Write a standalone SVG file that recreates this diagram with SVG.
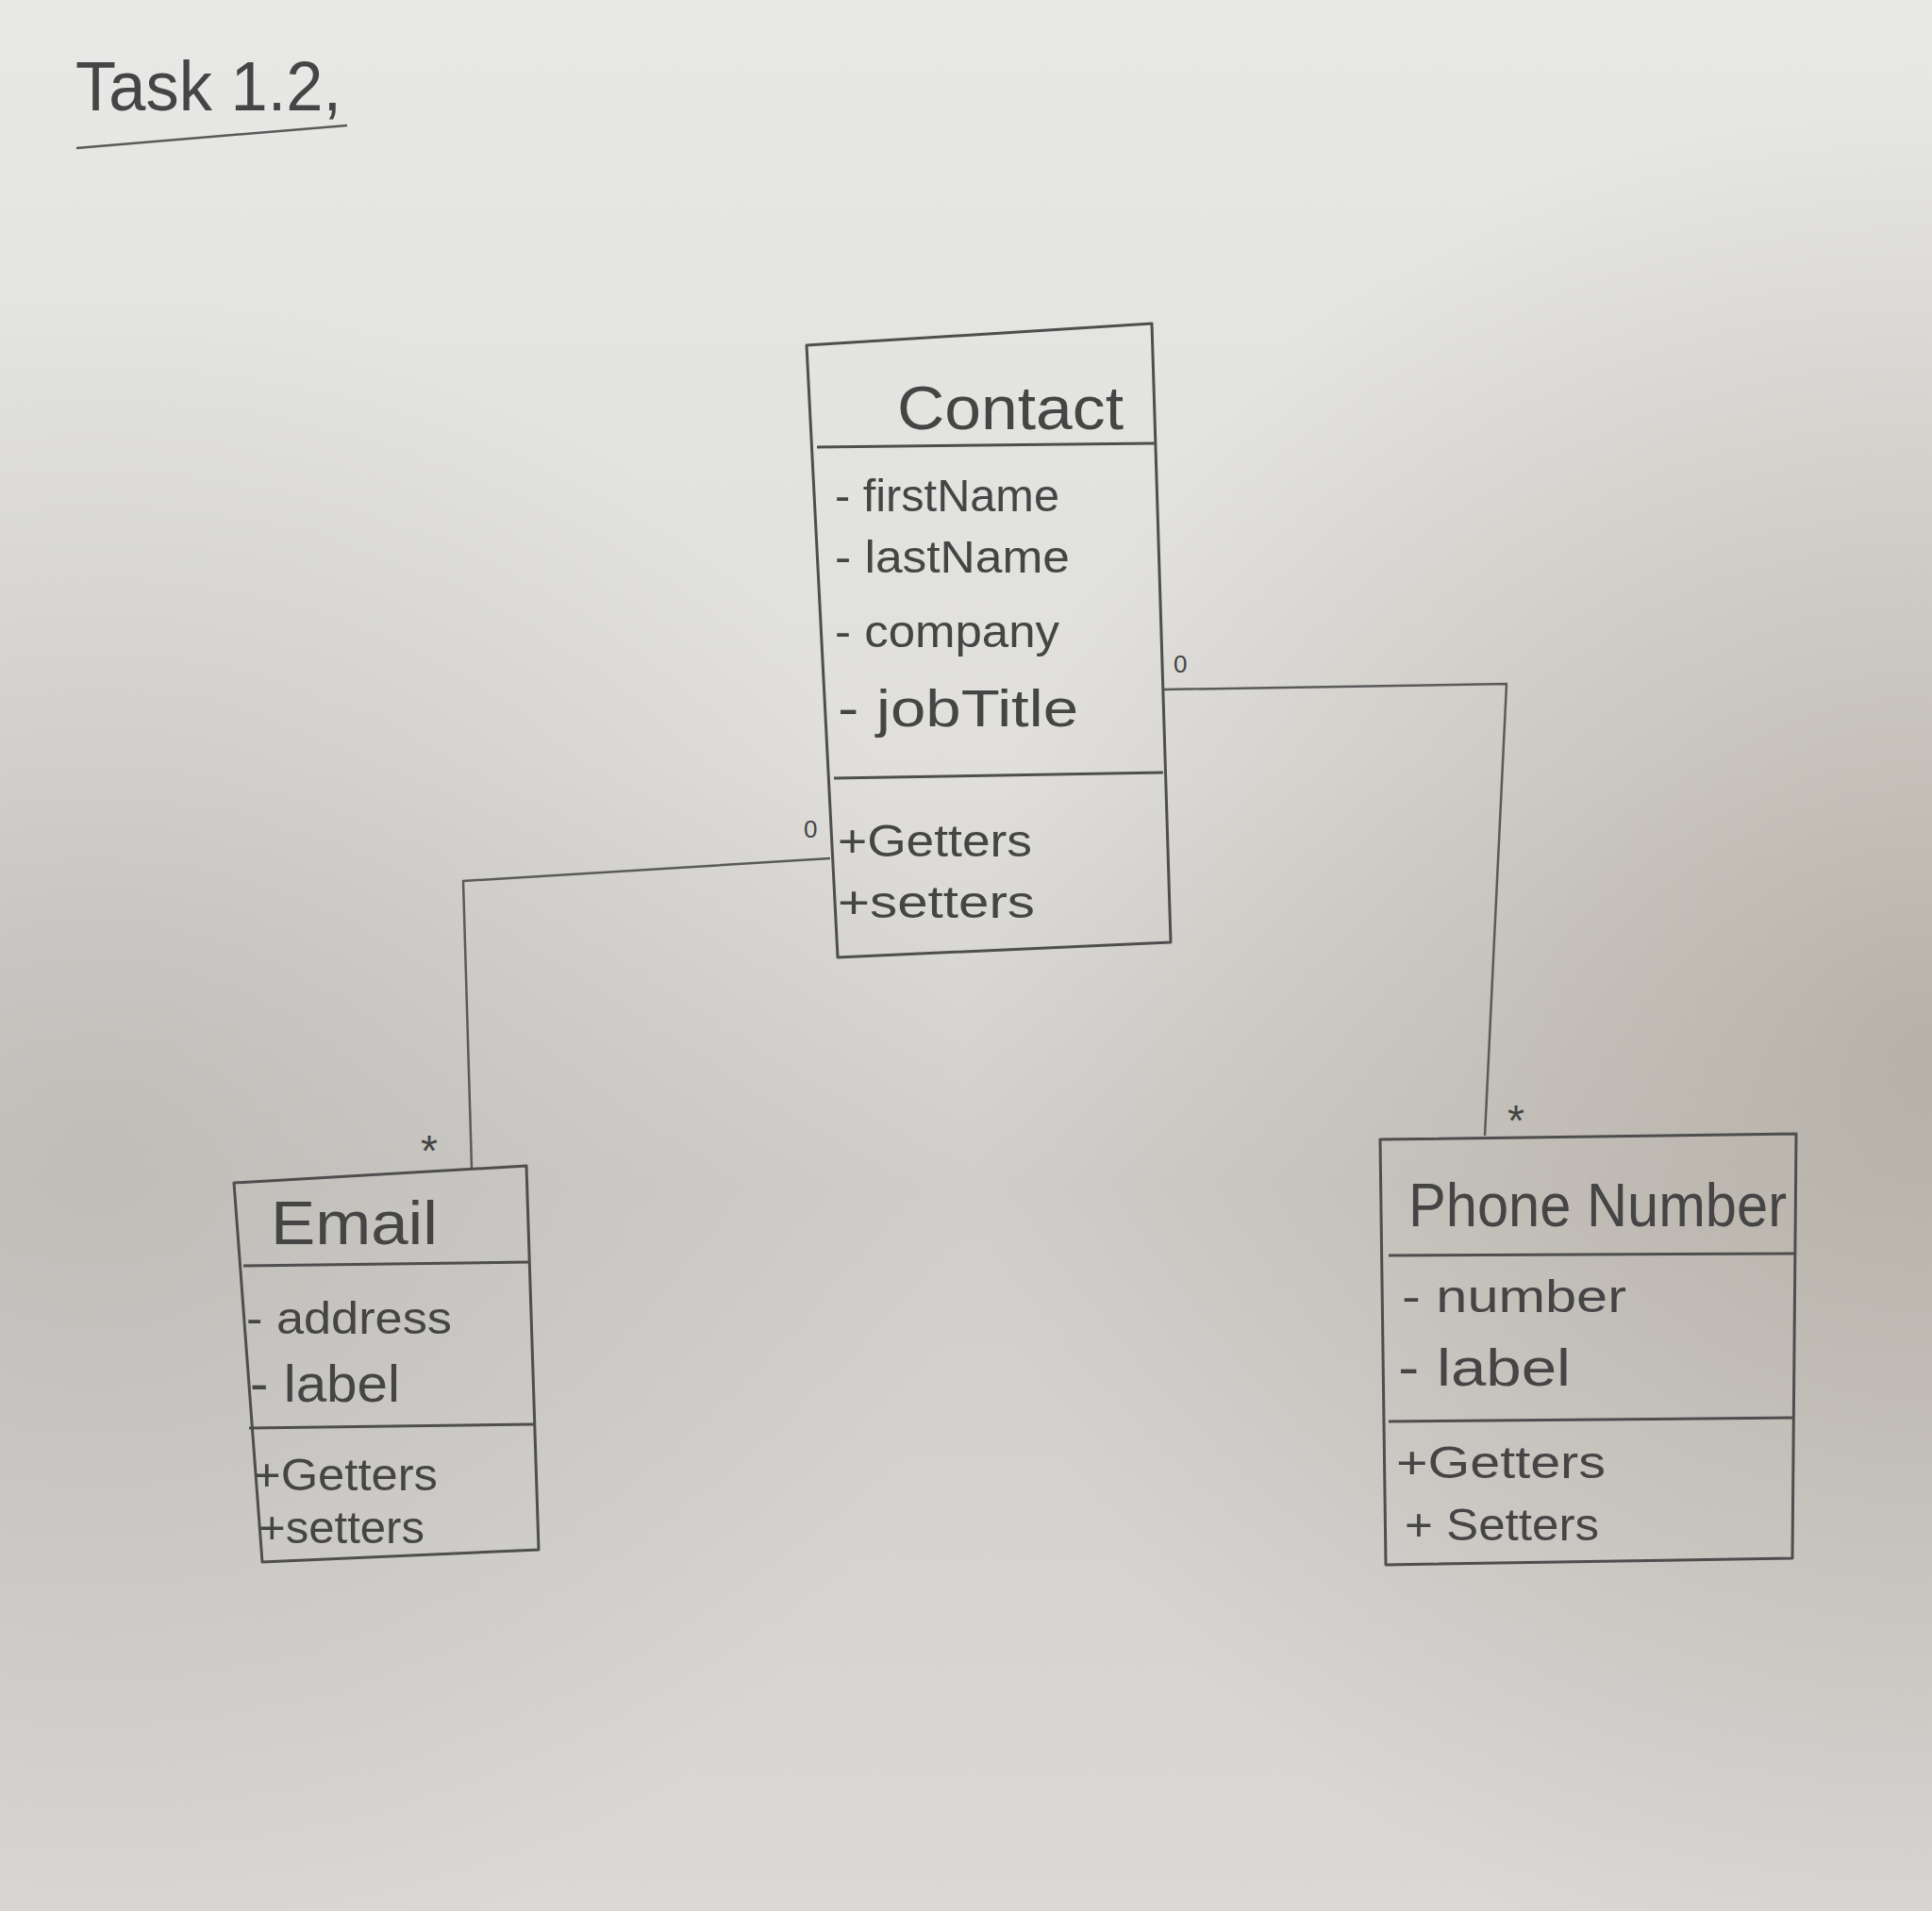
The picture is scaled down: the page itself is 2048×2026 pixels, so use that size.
<svg xmlns="http://www.w3.org/2000/svg" width="2048" height="2026" viewBox="0 0 2048 2026">
  <defs>
    <linearGradient id="paper" x1="0" y1="0" x2="0" y2="1">
      <stop offset="0" stop-color="#e8e8e6"/>
      <stop offset="0.4" stop-color="#e0dfdc"/>
      <stop offset="0.62" stop-color="#d0cecb"/>
      <stop offset="1" stop-color="#dad9d7"/>
    </linearGradient>
    <radialGradient id="shadeL" cx="0.05" cy="0.6" r="0.45">
      <stop offset="0" stop-color="#b9b6b1" stop-opacity="0.7"/>
      <stop offset="1" stop-color="#b9b6b1" stop-opacity="0"/>
    </radialGradient>
    <radialGradient id="shadeR" cx="1" cy="0.55" r="0.5">
      <stop offset="0" stop-color="#aaa397" stop-opacity="0.7"/>
      <stop offset="1" stop-color="#aaa397" stop-opacity="0"/>
    </radialGradient>
    <style>
      .box { fill: none; stroke: #4e4e4e; stroke-width: 3; stroke-linejoin: round; }
      .line { fill: none; stroke: #5a5a5a; stroke-width: 2.5; stroke-linejoin: round; }
      .t { font-family: "Liberation Sans", "DejaVu Sans", sans-serif; fill: #454545; }
      .title { font-size: 74px; }
      .cls { font-size: 64px; }
      .attr { font-size: 48px; }
      .big { font-size: 56px; }
      .mult { font-size: 26px; }
      .star { font-size: 46px; }
    </style>
  </defs>

  <rect x="0" y="0" width="2048" height="2026" fill="url(#paper)"/>
  <rect x="0" y="0" width="2048" height="2026" fill="url(#shadeL)"/>
  <rect x="0" y="0" width="2048" height="2026" fill="url(#shadeR)"/>

  <g id="title">
    <text class="t title" x="80" y="117" textLength="282" lengthAdjust="spacingAndGlyphs">Task 1.2,</text>
    <path class="line" d="M81,157 L368,133"/>
  </g>

  <g id="connectors">
    <path class="line" d="M880,910 L491,934 L500,1238"/>
    <path class="line" d="M1232,731 L1597,725 L1574,1204"/>
    <text class="t mult" x="852" y="888">0</text>
    <text class="t mult" x="1244" y="713">0</text>
    <text class="t star" x="446" y="1236">*</text>
    <text class="t star" x="1598" y="1204">*</text>
  </g>

  <g id="contact">
    <path class="box" d="M855,366 L1221,343 L1241,999 L888,1015 Z"/>
    <path class="box" d="M866,474 L1224,470"/>
    <path class="box" d="M884,825 L1233,819"/>
    <text class="t cls" x="951" y="455" textLength="240" lengthAdjust="spacingAndGlyphs">Contact</text>
    <text class="t attr" x="885" y="542" textLength="238" lengthAdjust="spacingAndGlyphs">- firstName</text>
    <text class="t attr" x="885" y="607" textLength="249" lengthAdjust="spacingAndGlyphs">- lastName</text>
    <text class="t attr" x="885" y="686" textLength="238" lengthAdjust="spacingAndGlyphs">- company</text>
    <text class="t big" x="888" y="770" textLength="255" lengthAdjust="spacingAndGlyphs">- jobTitle</text>
    <text class="t attr" x="888" y="908" textLength="206" lengthAdjust="spacingAndGlyphs">+Getters</text>
    <text class="t attr" x="888" y="973" textLength="209" lengthAdjust="spacingAndGlyphs">+setters</text>
  </g>

  <g id="email">
    <path class="box" d="M248,1254 L558,1236 L571,1643 L278,1656 Z"/>
    <path class="box" d="M258,1342 L562,1338"/>
    <path class="box" d="M264,1514 L566,1510"/>
    <text class="t cls" x="287" y="1319" textLength="177" lengthAdjust="spacingAndGlyphs">Email</text>
    <text class="t attr" x="261" y="1414" textLength="218" lengthAdjust="spacingAndGlyphs">- address</text>
    <text class="t big" x="265" y="1486" textLength="159" lengthAdjust="spacingAndGlyphs">- label</text>
    <text class="t attr" x="268" y="1580" textLength="196" lengthAdjust="spacingAndGlyphs">+Getters</text>
    <text class="t attr" x="274" y="1636" textLength="176" lengthAdjust="spacingAndGlyphs">+setters</text>
  </g>

  <g id="phone-number">
    <path class="box" d="M1463,1208 L1904,1202 L1900,1652 L1469,1659 Z"/>
    <path class="box" d="M1472,1331 L1904,1329"/>
    <path class="box" d="M1472,1507 L1902,1503"/>
    <text class="t cls" x="1493" y="1300" textLength="401" lengthAdjust="spacingAndGlyphs">Phone Number</text>
    <text class="t attr" x="1486" y="1391" textLength="238" lengthAdjust="spacingAndGlyphs">- number</text>
    <text class="t big" x="1482" y="1469" textLength="183" lengthAdjust="spacingAndGlyphs">- label</text>
    <text class="t attr" x="1480" y="1567" textLength="222" lengthAdjust="spacingAndGlyphs">+Getters</text>
    <text class="t attr" x="1489" y="1633" textLength="206" lengthAdjust="spacingAndGlyphs">+ Setters</text>
  </g>
</svg>
